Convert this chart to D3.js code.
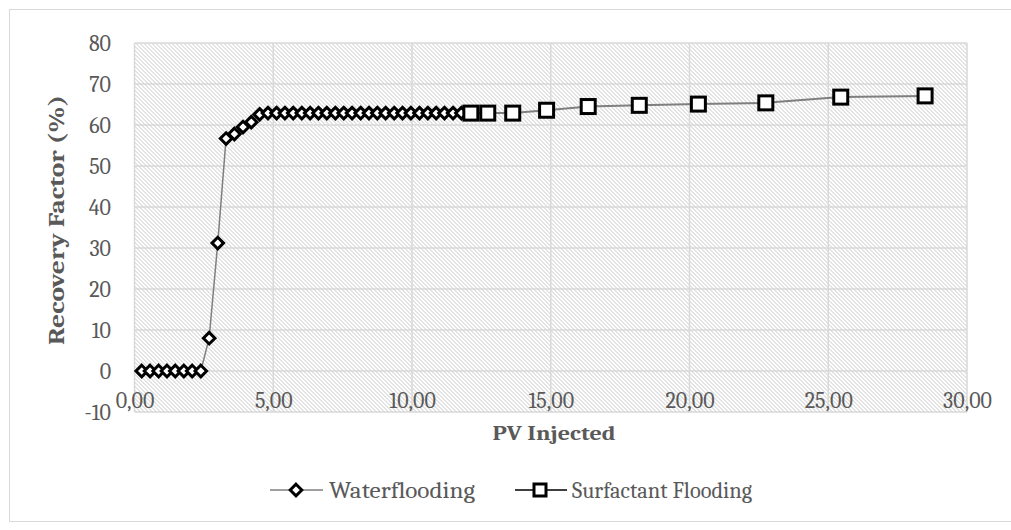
<!DOCTYPE html>
<html>
<head>
<meta charset="utf-8">
<script src="https://cdn.jsdelivr.net/npm/d3@7"></script>
<style>
  html, body { margin: 0; padding: 0; background: #ffffff; }
  svg { display: block; }
</style>
</head>
<body>
<svg id="chart" width="1011" height="530"></svg>
<script>
// PV injected / recovery factor (%) for the waterflood stage
const waterPV = [0.26, 0.56, 0.87, 1.17, 1.47, 1.78, 2.08, 2.39, 2.69, 3.00,
  3.30, 3.60, 3.91, 4.21, 4.51, 4.81, 5.12, 5.42, 5.72, 6.03, 6.33, 6.63,
  6.93, 7.24, 7.54, 7.84, 8.15, 8.45, 8.75, 9.05, 9.36, 9.66, 9.96, 10.27,
  10.57, 10.87, 11.17, 11.48, 11.78];
const waterRF = [0, 0, 0, 0, 0, 0, 0, 0, 8.0, 31.2,
  56.7, 57.8, 59.5, 60.7, 62.6, 62.9, 62.9, 62.9, 62.9, 62.9, 62.9, 62.9,
  62.9, 62.9, 62.9, 62.9, 62.9, 62.9, 62.9, 62.9, 62.9, 62.9, 62.9, 62.9,
  62.9, 62.9, 62.9, 62.9, 62.9];

// Surfactant flooding stage
const surfPV = [12.12, 12.73, 13.63, 14.85, 16.35, 18.19, 20.32, 22.75, 25.45, 28.49];
const surfRF = [62.9, 62.9, 62.9, 63.6, 64.5, 64.8, 65.1, 65.4, 66.8, 67.1];

const xTicks = [0, 5, 10, 15, 20, 25, 30];
const yTicks = [-10, 0, 10, 20, 30, 40, 50, 60, 70, 80];
const seriesNames = ["Waterflooding", "Surfactant Flooding"];

const svg = d3.select("#chart");

const x = d3.scaleLinear().domain([0, 30]).range([134.5, 967]);
const y = d3.scaleLinear().domain([-10, 80]).range([412, 43]);

const comma = d3.formatLocale({decimal: ",", thousands: ".", grouping: [3], currency: ["", ""]}).format(".2f");

const serif = "Cambria, 'Liberation Serif', 'DejaVu Serif', serif";
const textGrey = "#595959";
const gridGrey = "#d9d9d9";

// outer chart frame
svg.append("rect")
  .attr("x", 9.5).attr("y", 9.5)
  .attr("width", 1011).attr("height", 512)
  .attr("fill", "#fff").attr("stroke", gridGrey).attr("stroke-width", 1);

// diagonal hatch for the plot area
const defs = svg.append("defs");
const pat = defs.append("pattern")
  .attr("id", "hatch").attr("patternUnits", "userSpaceOnUse")
  .attr("width", 4).attr("height", 4);
pat.append("rect").attr("width", 4).attr("height", 4).attr("fill", "#ffffff");
[[0,0],[1,0],[1,1],[2,1],[2,2],[3,2],[3,3],[0,3]].forEach(([px, py]) => {
  pat.append("rect").attr("x", px).attr("y", py).attr("width", 1).attr("height", 1)
    .attr("fill", "#e3e3e3").attr("shape-rendering", "crispEdges");
});

svg.append("rect")
  .attr("x", x(0)).attr("y", y(80))
  .attr("width", x(30) - x(0)).attr("height", y(-10) - y(80))
  .attr("fill", "url(#hatch)");

// gridlines
const grid = svg.append("g").attr("stroke", gridGrey).attr("stroke-width", 1.5);
grid.selectAll("line.h").data(yTicks).join("line").attr("class", "h")
  .attr("x1", x(0)).attr("x2", x(30))
  .attr("y1", d => y(d)).attr("y2", d => y(d));
grid.selectAll("line.v").data(xTicks).join("line").attr("class", "v")
  .attr("x1", d => x(d)).attr("x2", d => x(d))
  .attr("y1", y(80)).attr("y2", y(-10));

// y axis labels
const yAxis = d3.axisLeft(y).tickValues(yTicks).tickSize(0).tickPadding(0).tickFormat(d => String(d));
const gy = svg.append("g").attr("transform", "translate(111,0)").call(yAxis);
gy.select(".domain").remove();
gy.selectAll("text")
  .attr("font-family", serif).attr("font-size", 22).attr("fill", textGrey)
  .attr("dy", "0.34em");

// x axis labels, drawn just above the bottom edge
const xAxis = d3.axisBottom(x).tickValues(xTicks).tickSize(0).tickPadding(0).tickFormat(comma);
const gx = svg.append("g").attr("transform", "translate(0,408)").call(xAxis);
gx.select(".domain").remove();
gx.selectAll("text")
  .attr("font-family", serif).attr("font-size", 22).attr("fill", textGrey)
  .attr("dy", 0).attr("y", 0);

// axis titles
svg.append("text")
  .attr("x", 554).attr("y", 440)
  .attr("text-anchor", "middle")
  .attr("font-family", serif).attr("font-weight", "bold").attr("font-size", 21)
  .attr("fill", textGrey)
  .attr("textLength", 123).attr("lengthAdjust", "spacingAndGlyphs")
  .text("PV Injected");

svg.append("text")
  .attr("transform", "translate(64,220) rotate(-90)")
  .attr("text-anchor", "middle")
  .attr("font-family", serif).attr("font-weight", "bold").attr("font-size", 22)
  .attr("fill", textGrey)
  .attr("textLength", 250).attr("lengthAdjust", "spacingAndGlyphs")
  .text("Recovery Factor (%)");

// series
const water = waterPV.map((v, i) => [v, waterRF[i]]);
const surf = surfPV.map((v, i) => [v, surfRF[i]]);
const line = d3.line().x(d => x(d[0])).y(d => y(d[1]));

svg.append("path").datum(water)
  .attr("d", line).attr("fill", "none")
  .attr("stroke", "#7f7f7f").attr("stroke-width", 1.5);
svg.append("path").datum(surf)
  .attr("d", line).attr("fill", "none")
  .attr("stroke", "#7f7f7f").attr("stroke-width", 2);

const diamond = d3.symbol().type(d3.symbolDiamond2).size(85);
svg.append("g").selectAll("path").data(water).join("path")
  .attr("transform", d => `translate(${x(d[0])},${y(d[1])})`)
  .attr("d", diamond)
  .attr("fill", "#fff").attr("stroke", "#000").attr("stroke-width", 3);

svg.append("g").selectAll("rect").data(surf).join("rect")
  .attr("x", d => x(d[0]) - 7).attr("y", d => y(d[1]) - 7)
  .attr("width", 14).attr("height", 14)
  .attr("fill", "#fff").attr("stroke", "#000").attr("stroke-width", 3);

// legend
const legY = 490;
const lg1 = svg.append("g").attr("transform", `translate(0,${legY})`);
lg1.append("line").attr("x1", 270).attr("x2", 323).attr("y1", 0).attr("y2", 0)
  .attr("stroke", "#7f7f7f").attr("stroke-width", 1.5);
lg1.append("path").attr("d", diamond).attr("transform", "translate(296,0)")
  .attr("fill", "#fff").attr("stroke", "#000").attr("stroke-width", 3);
lg1.append("text").attr("x", 329).attr("y", 0).attr("dy", "0.35em")
  .attr("font-family", serif).attr("font-size", 22).attr("fill", textGrey)
  .attr("textLength", 146).attr("lengthAdjust", "spacingAndGlyphs")
  .text(seriesNames[0]);

const lg2 = svg.append("g").attr("transform", `translate(0,${legY})`);
lg2.append("line").attr("x1", 515).attr("x2", 567).attr("y1", 0).attr("y2", 0)
  .attr("stroke", "#3f3f3f").attr("stroke-width", 2);
lg2.append("rect").attr("x", 534).attr("y", -6).attr("width", 12).attr("height", 12)
  .attr("fill", "#fff").attr("stroke", "#000").attr("stroke-width", 3);
lg2.append("text").attr("x", 572).attr("y", 0).attr("dy", "0.35em")
  .attr("font-family", serif).attr("font-size", 22).attr("fill", textGrey)
  .attr("textLength", 180).attr("lengthAdjust", "spacingAndGlyphs")
  .text(seriesNames[1]);
</script>
</body>
</html>
